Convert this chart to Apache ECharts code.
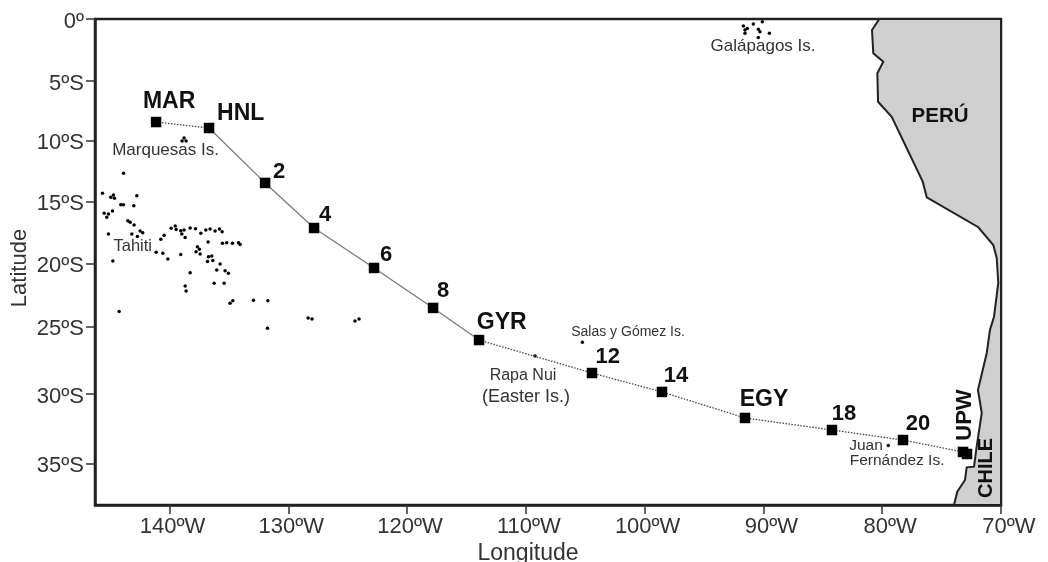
<!DOCTYPE html>
<html><head><meta charset="utf-8">
<style>html,body{margin:0;padding:0;background:#fff}#c{width:1048px;height:562px}</style>
<script src="https://cdn.jsdelivr.net/npm/echarts@6/dist/echarts.min.js"></script>
</head><body><div id="c"></div>
<script>
const lonTicks=[-140,-130,-120,-110,-100,-90,-80,-70];
const lonTickLabels=['140ºW','130ºW','120ºW','110ºW','100ºW','90ºW','80ºW','70ºW'];
// the reference's latitude ticks are unevenly spaced (map projection): these are where they sit on the chart's linear scale
const latTicks=[0,-4.89,-9.59,-14.37,-19.25,-24.25,-29.55,-35.01];
const latTickLabels=['0º','5ºS','10ºS','15ºS','20ºS','25ºS','30ºS','35ºS'];

const stationNames=['MAR','HNL','2','4','6','8','GYR','12','14','EGY','18','20','UPW','UPW2'];
const stationLon=[-141.13,-136.67,-131.95,-127.83,-122.78,-117.81,-113.94,-104.43,-98.54,-91.55,-84.23,-78.25,-73.2,-72.86];
const stationLat=[-8.12,-8.59,-12.92,-16.47,-19.62,-22.77,-25.3,-27.9,-29.39,-31.44,-32.39,-33.18,-34.12,-34.28];

const coast=[[-80.24,0],[-80.86,-0.87],[-80.75,-2.7],[-79.91,-3.36],[-80.41,-4.28],[-80.35,-6.52],[-79.2,-7.7],[-76.59,-12.82],[-76.25,-14.05],[-71.91,-16.41],[-70.65,-17.81],[-70.36,-18.83],[-70.23,-20.8],[-70.59,-23.46],[-70.93,-24.51],[-71.2,-26.32],[-71.94,-29.24],[-71.62,-31.05],[-72.05,-33.7],[-72.27,-35.28],[-72.89,-35.33],[-73.03,-36.33],[-73.68,-37.25],[-73.96,-38.3],[-70,-38.3],[-70,0]];

const islands=[[-143.87,-12.16],[-145.64,-13.74],[-144.94,-14.05],[-144.72,-13.87],[-144.63,-14.13],[-142.75,-13.92],[-144.1,-14.63],[-143.87,-14.63],[-143,-14.71],[-145.5,-15.31],[-145.28,-15.63],[-145.14,-15.37],[-144.8,-15.13],[-143.51,-15.89],[-143.31,-16.02],[-142.98,-16.23],[-145.14,-16.94],[-143.17,-16.94],[-142.7,-17.15],[-142.47,-16.71],[-142.25,-16.84],[-144.77,-19.07],[-140.73,-17.36],[-140.45,-17.05],[-139.86,-16.5],[-139.52,-16.31],[-139.44,-16.58],[-139.05,-16.68],[-138.77,-16.63],[-138.96,-16.94],[-138.68,-17.21],[-138.26,-16.47],[-137.81,-16.52],[-137.36,-16.89],[-136.94,-16.63],[-136.58,-16.55],[-136.16,-16.71],[-135.79,-16.55],[-135.57,-16.76],[-135.54,-17.68],[-135.18,-17.63],[-134.7,-17.68],[-134.19,-17.63],[-134.05,-17.78],[-136.75,-17.57],[-141.12,-18.39],[-140.56,-18.47],[-140.14,-18.91],[-139.05,-18.55],[-137.65,-17.94],[-137.76,-18.34],[-137.42,-18.52],[-137.48,-18.15],[-136.72,-18.73],[-136.44,-18.68],[-136.8,-19.12],[-136.35,-19.04],[-135.74,-19.31],[-136.02,-19.78],[-135.32,-19.83],[-135.04,-20.04],[-138.26,-19.99],[-136.24,-20.83],[-135.4,-20.83],[-138.68,-21.04],[-138.6,-21.43],[-134.9,-22.41],[-134.67,-22.2],[-132.93,-22.17],[-131.72,-22.2],[-144.24,-23.06],[-131.75,-24.38],[-128.33,-23.56],[-128,-23.64],[-124.38,-23.8],[-124.04,-23.64],[-138.77,-9.38],[-138.94,-9.61],[-138.6,-9.61],[-91.69,-0.55],[-91.55,-0.87],[-91.36,-0.74],[-91.55,-1.13],[-90.85,-0.39],[-90.43,-0.81],[-90.29,-1],[-89.5,-1.13],[-90.43,-1.45],[-90.09,-0.21],[-109.23,-26.56],[-105.24,-25.48],[-79.49,-33.62]];

// text, lon, lat, font size, rotation (deg)
const boldLabels=[['MAR',-140.03,-6.52,23,0],['HNL',-134,-7.49,23,0],['2',-130.77,-12.06,22,0],['4',-126.9,-15.45,22,0],['6',-121.77,-18.6,22,0],['8',-116.97,-21.43,22,0],['GYR',-112.03,-23.96,23,0],['12',-103.11,-26.61,22,0],['14',-97.36,-28.11,22,0],['EGY',-89.95,-30.02,23,0],['18',-83.22,-31.13,22,0],['20',-76.99,-31.91,22,0],['UPW',-73.07,-31.21,22,90],['CHILE',-71.26,-35.38,20,90],['PERÚ',-75.13,-7.64,20.5,0]];
const placeLabels=[['Marquesas Is.',-140.33,-10.38,17],['Tahiti',-143.09,-17.94,16.5],['Galápagos Is.',-90.03,-2.18,17],['Salas y Gómez Is.',-101.4,-24.64,14],['Rapa Nui',-110.24,-28.13,16],['(Easter Is.)',-109.98,-29.76,18],['Juan',-81.36,-33.65,15.5],['Fernández Is.',-78.75,-34.83,15.5]];

const route=stationLon.map((x,i)=>[x,stationLat[i]]);
const INK='#222';
const FONT='"Liberation Sans",Arial,sans-serif';
const chart=echarts.init(document.getElementById('c'),null,{renderer:'canvas'});

function nearestIndex(list,v){
  let best=0;
  list.forEach((t,i)=>{if(Math.abs(t-v)<Math.abs(list[best]-v))best=i;});
  return best;
}
function textSeries(items,bold){
  return {type:'custom',coordinateSystem:'cartesian2d',z:6,silent:true,clip:false,
    data:items.map(t=>[t[1],t[2]]),
    renderItem:(p,api)=>{
      const t=items[p.dataIndex];
      const c=api.coord([api.value(0),api.value(1)]);
      return {type:'text',x:c[0],y:c[1],rotation:(bold?t[4]:0)*Math.PI/180,
        style:{text:t[0],fill:bold?'#111':'#333',align:'center',verticalAlign:'middle',
          font:(bold?'bold ':'')+t[3]+'px '+FONT}};
    }};
}
const tickFont={fontSize:22,color:'#333',fontFamily:FONT};

chart.setOption({
  animation:false,
  backgroundColor:'#fff',
  textStyle:{fontFamily:FONT},
  grid:{left:95,top:19,width:906,height:486,outerBoundsMode:'none',show:true,backgroundColor:'transparent',borderColor:INK,borderWidth:2.5,containLabel:false},
  xAxis:{type:'value',min:-146.27,max:-70,splitLine:{show:false},
    name:'Longitude',nameLocation:'middle',nameGap:37,nameMoveOverlap:false,
    nameTextStyle:{fontSize:23,color:'#333',fontFamily:FONT,padding:[0,40,0,0]},
    axisLine:{show:true,onZero:false,lineStyle:{color:INK,width:2.5}},
    axisTick:{show:true,length:9,inside:false,lineStyle:{color:'#333',width:1.5},customValues:lonTicks},
    axisLabel:{show:true,margin:11,fontSize:22,color:'#333',fontFamily:FONT,customValues:lonTicks,
      rich:{t3:Object.assign({padding:[0,0,0,6]},tickFont),t2:Object.assign({padding:[0,0,0,16]},tickFont)},
      formatter:v=>{const s=lonTickLabels[nearestIndex(lonTicks,v)];return '{'+(s.length>4?'t3':'t2')+'|'+s+'}';}}},
  yAxis:{type:'value',min:-38.3,max:0,splitLine:{show:false},
    name:'Latitude',nameLocation:'middle',nameGap:64,nameRotate:90,nameMoveOverlap:false,
    nameTextStyle:{fontSize:22,color:'#333',fontFamily:FONT,padding:[0,12,0,0]},
    axisLine:{show:true,onZero:false,lineStyle:{color:INK,width:2.5}},
    axisTick:{show:true,length:9,inside:false,lineStyle:{color:'#333',width:1.5},customValues:latTicks},
    axisLabel:{show:true,margin:11,fontSize:22,color:'#333',fontFamily:FONT,customValues:latTicks,
      rich:{l:Object.assign({padding:[5,0,0,0]},tickFont)},
      formatter:v=>'{l|'+latTickLabels[nearestIndex(latTicks,v)]+'}'}},
  series:[
    {type:'custom',name:'Land',coordinateSystem:'cartesian2d',z:1,silent:true,clip:true,
      data:[coast[0]],
      renderItem:(p,api)=>({type:'polygon',shape:{points:coast.map(c=>api.coord(c))},
        style:{fill:'#cfcfcf',stroke:INK,lineWidth:2}})},
    {type:'scatter',name:'Islands',z:2,symbol:'circle',symbolSize:3.5,silent:true,
      itemStyle:{color:'#000',opacity:1},data:islands},
    {type:'line',name:'Transect',z:3,silent:true,showSymbol:false,data:route.slice(0,2),
      lineStyle:{color:'#444',width:1.3,type:[1.5,1.5]}},
    {type:'line',name:'Transect',z:3,silent:true,showSymbol:false,data:route.slice(1,7),
      lineStyle:{color:'#777',width:1.2}},
    {type:'line',name:'Transect',z:3,silent:true,showSymbol:false,data:route.slice(6),
      lineStyle:{color:'#444',width:1.3,type:[1.5,1.5]}},
    {type:'scatter',name:'Stations',z:4,symbol:'rect',symbolSize:10.5,silent:true,
      itemStyle:{color:'#000',opacity:1},data:route},
    textSeries(boldLabels,true),
    textSeries(placeLabels,false)
  ]
});
</script></body></html>
